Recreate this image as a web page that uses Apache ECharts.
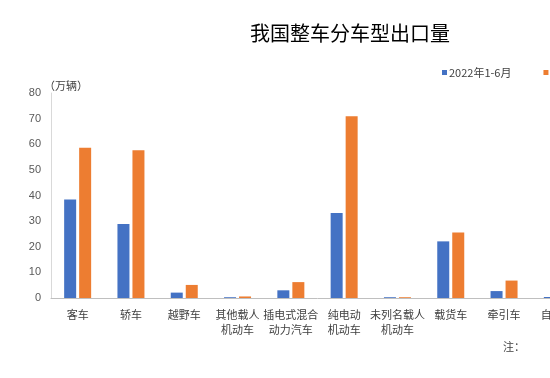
<!DOCTYPE html>
<html>
<head>
<meta charset="utf-8">
<script src="https://cdn.jsdelivr.net/npm/echarts@6/dist/echarts.min.js"></script>
<style>
html, body { margin: 0; padding: 0; width: 550px; height: 378px; overflow: hidden; background: #fff; }
#chart-box { width: 700px; height: 378px; }
</style>
</head>
<body>
<div id="chart-box"></div>
<script>
// 车型（右侧被截断，只看得到“自…”）
var categories = ['客车', '轿车', '越野车', '其他载人\n机动车', '插电式混合\n动力汽车', '纯电动\n机动车', '未列名载人\n机动车', '载货车', '牵引车', '自卸车'];
var seriesNames = ['2022年1-6月', '2023年1-6月'];
var data2022 = [38.4, 28.9, 2.1, 0.3, 3.0, 33.2, 0.3, 22.1, 2.7, 0.4];
var data2023 = [58.6, 57.7, 5.1, 0.6, 6.2, 70.9, 0.3, 25.6, 6.8, 0.4];
var yTicks = { min: 0, max: 80, interval: 10 };

var font = '"Noto Sans CJK SC", sans-serif';

var option = {
    animation: false,
    backgroundColor: '#fff',
    title: {
        text: '我国整车分车型出口量',
        left: 345,
        top: 18,
        textAlign: 'center',
        textStyle: {
            color: '#000',
            fontSize: 20,
            fontWeight: 'normal',
            fontFamily: font
        }
    },
    legend: {
        left: 437,
        top: 62,
        itemWidth: 5,
        itemHeight: 5,
        itemGap: 32,
        icon: 'rect',
        textStyle: {
            color: '#404040',
            fontSize: 11,
            fontFamily: font,
            padding: [0, 0, 0, -3]
        },
        data: seriesNames
    },
    grid: {
        left: 51,
        right: 116,
        top: 93,
        bottom: 80
    },
    xAxis: [{
        type: 'category',
        data: categories,
        axisLine: {
            lineStyle: { color: '#bfbfbf', width: 1 }
        },
        axisTick: { show: false },
        axisLabel: {
            interval: 0,
            margin: 9,
            color: '#404040',
            fontSize: 11,
            lineHeight: 15,
            fontFamily: font
        }
    }],
    yAxis: [{
        type: 'value',
        min: yTicks.min,
        max: yTicks.max,
        interval: yTicks.interval,
        axisLine: {
            show: true,
            lineStyle: { color: '#d9d9d9', width: 1 }
        },
        axisTick: { show: false },
        splitLine: { show: false },
        axisLabel: {
            margin: 10,
            color: '#595959',
            fontSize: 11,
            fontFamily: 'Liberation Sans, Arial, sans-serif'
        }
    }],
    series: [{
        name: seriesNames[0],
        type: 'bar',
        barWidth: 12,
        barGap: '25%',
        itemStyle: { color: '#4472C4' },
        data: data2022
    }, {
        name: seriesNames[1],
        type: 'bar',
        barWidth: 12,
        itemStyle: { color: '#ED7D31' },
        data: data2023
    }],
    graphic: [{
        // 单位
        type: 'text',
        left: 44,
        top: 80,
        style: {
            text: '（万辆）',
            fill: '#404040',
            fontSize: 11,
            fontFamily: font
        }
    }, {
        type: 'text',
        left: 503,
        top: 341,
        style: {
            text: '注：',
            fill: '#404040',
            fontSize: 11,
            fontFamily: font
        }
    }]
};

var myChart = echarts.init(document.getElementById('chart-box'));
myChart.setOption(option);
</script>
</body>
</html>
